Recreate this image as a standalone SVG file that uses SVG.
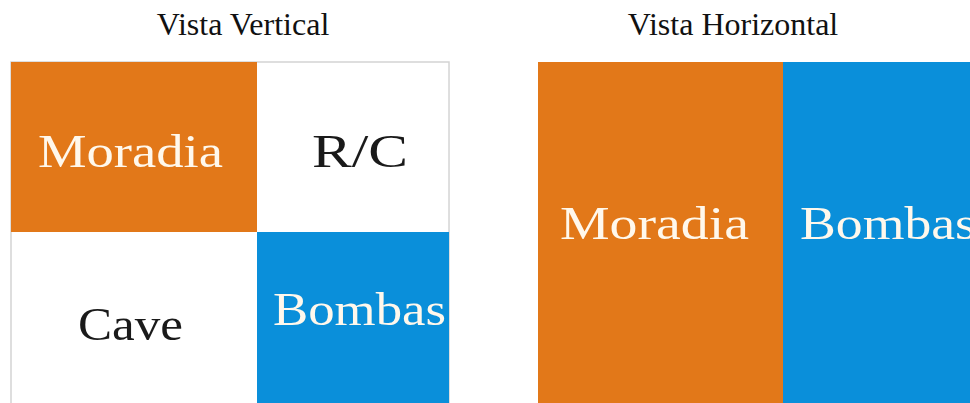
<svg xmlns="http://www.w3.org/2000/svg" width="970" height="403" viewBox="0 0 970 403">
<style>
.title{font-family:"Liberation Serif",serif;font-size:32px;fill:#111}
.lbl{font-family:"Liberation Serif",serif;font-size:46px}
.light{fill:#FFF8EC}
.dark{fill:#1a1a1a}
.or{fill:#E27819}
.bl{fill:#0A8FDA}
</style>
<rect width="970" height="403" fill="#fff"/>
<text class="title" x="243" y="35" text-anchor="middle">Vista Vertical</text>
<text class="title" x="733" y="35" text-anchor="middle">Vista Horizontal</text>
<g id="vertical">
<rect x="11" y="62" width="438" height="345" fill="#fff" stroke="#d4d4d4" stroke-width="1.5"/>
<g id="v-moradia"><rect class="or" x="11" y="62" width="246" height="170"/>
<text class="lbl light" x="38" y="167" textLength="185" lengthAdjust="spacingAndGlyphs">Moradia</text></g>
<g id="v-rc"><text class="lbl dark" x="312" y="167" textLength="96" lengthAdjust="spacingAndGlyphs">R/C</text></g>
<g id="v-cave"><text class="lbl dark" x="78" y="340" textLength="105" lengthAdjust="spacingAndGlyphs">Cave</text></g>
<g id="v-bombas"><rect class="bl" x="257" y="232" width="192" height="171"/>
<text class="lbl light" x="273" y="325" textLength="173" lengthAdjust="spacingAndGlyphs">Bombas</text></g>
</g>
<g id="horizontal">
<g id="h-moradia"><rect class="or" x="538" y="62" width="245" height="341"/>
<text class="lbl light" x="560" y="239" textLength="189" lengthAdjust="spacingAndGlyphs">Moradia</text></g>
<g id="h-bombas"><rect class="bl" x="783" y="62" width="187" height="341"/>
<text class="lbl light" x="800" y="239" textLength="176" lengthAdjust="spacingAndGlyphs">Bombas</text></g>
</g>
</svg>
